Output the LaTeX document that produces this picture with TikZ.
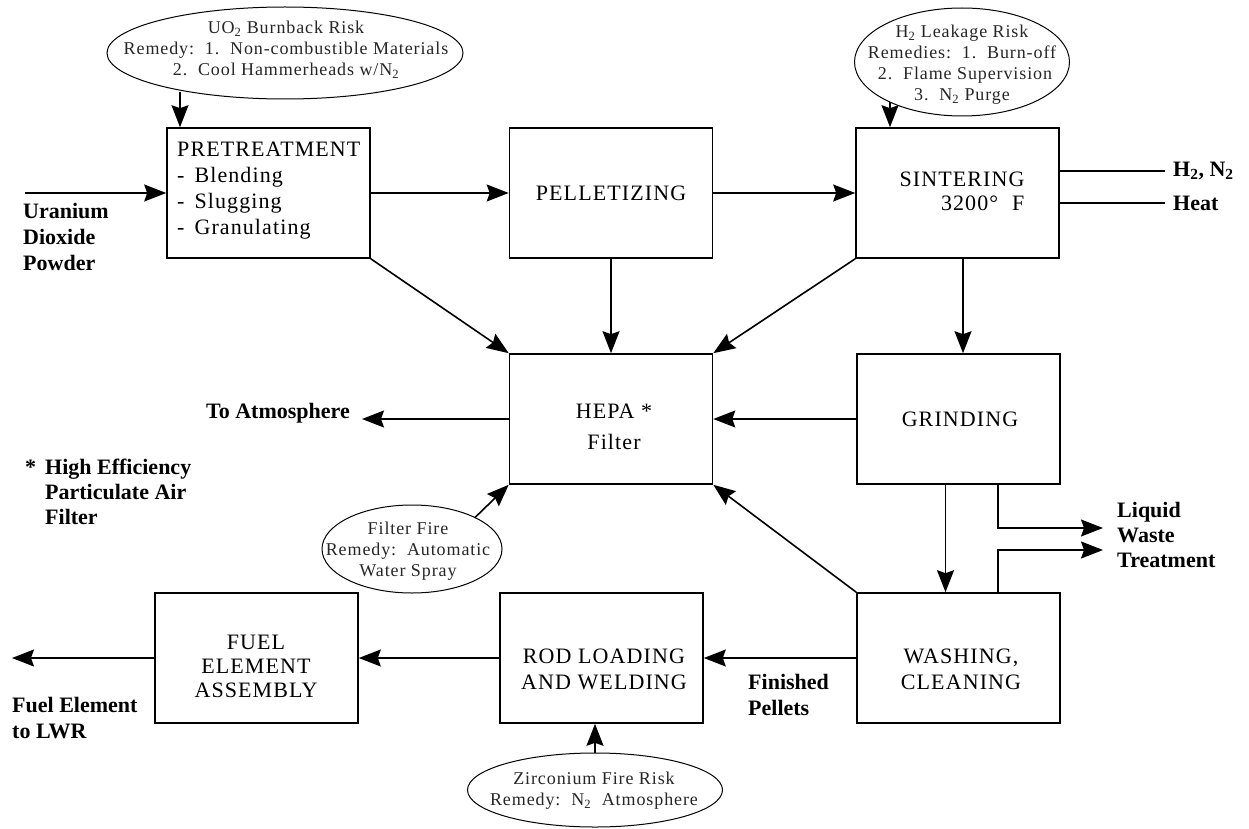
\documentclass[tikz,border=0pt]{standalone}
\usepackage{fontspec}
\setmainfont{Liberation Serif}
\newfontfamily\boxfont[LetterSpace=5]{Liberation Serif}
\newfontfamily\riskfont[LetterSpace=5]{Liberation Serif}
\usetikzlibrary{arrows.meta,shapes.geometric}
\begin{document}
\begin{tikzpicture}[x=1pt,y=-1pt,
  stepbox/.style={draw,line width=1.6pt,minimum width=203pt,minimum height=130pt,inner sep=0pt},
  risk/.style={draw,ellipse,line width=1pt,inner sep=0pt},
  flow/.style={line width=1.6pt,-{Stealth[length=22pt,width=17pt,inset=3pt]}},
  plainline/.style={line width=1.6pt},
  boxtxt/.style={font=\boxfont\fontsize{22}{26}\selectfont,inner sep=0pt},
  risktxt/.style={font=\riskfont\fontsize{18}{21}\selectfont,inner sep=0pt,align=center,text=black!85},
  lab/.style={font=\fontsize{22}{26}\selectfont\bfseries,align=left,inner sep=0pt}]
\useasboundingbox (0,0) rectangle (1249,829);

% process steps
\node[stepbox] (pre)   at (268.5,193) {};
\node[stepbox] (pel)   at (611,193) {};
\node[stepbox] (sin)   at (957.5,193) {};
\node[stepbox] (hepa)  at (611,419) {};
\node[stepbox] (grind) at (958.5,419) {};
\node[stepbox] (wash)  at (958.5,658) {};
\node[stepbox] (rod)   at (601.5,658) {};
\node[stepbox] (fuel)  at (256.5,658) {};

\node[boxtxt,align=left,anchor=west] (pre-t) at (177,191)
  {PRETREATMENT\\-\hspace{10pt}Blending\\-\hspace{10pt}Slugging\\-\hspace{10pt}Granulating};
\node[boxtxt] (pel-t) at (611,193) {PELLETIZING};
\node[boxtxt,align=right,font=\boxfont\fontsize{22}{24}\selectfont] (sin-t) at (962,191) {SINTERING\\3200°\hspace{14pt}F};
\node[boxtxt,align=center,font=\boxfont\fontsize{22}{31}\selectfont] (hepa-t) at (614,427) {HEPA *\\Filter};
\node[boxtxt] (grind-t) at (960,419) {GRINDING};
\node[boxtxt,align=center] (wash-t) at (961,669) {WASHING,\\CLEANING};
\node[boxtxt,align=center] (rod-t) at (604,669) {ROD LOADING\\AND WELDING};
\node[boxtxt,align=center,font=\boxfont\fontsize{22}{24}\selectfont] (fuel-t) at (256,666) {FUEL\\ELEMENT\\ASSEMBLY};

% hazards and remedies
\node[risk,minimum width=356pt,minimum height=92pt] (uo2) at (285,53) {};
\node[risktxt] (uo2-t) at (286,50)
  {UO\textsubscript{2} Burnback Risk\hspace{38pt}\\Remedy:\ \ 1.\ \ Non-combustible Materials\\2.\ \ Cool Hammerheads w/N\textsubscript{2}};
\node[risk,minimum width=215pt,minimum height=108pt] (h2) at (962,62) {};
\node[risktxt] (h2-t) at (962,65)
  {H\textsubscript{2} Leakage Risk\hspace{10pt}\\Remedies:\ \ 1.\ \ Burn-off\\\hspace{6pt}2.\ \ Flame Supervision\\3.\ \ N\textsubscript{2} Purge\hspace{18pt}};
\node[risk,minimum width=180pt,minimum height=88pt] (fire) at (412,549) {};
\node[risktxt] (fire-t) at (408,551) {Filter Fire\\Remedy:\ \ Automatic\\Water Spray};
\node[risk,minimum width=255pt,minimum height=74pt] (zr) at (595,790) {};
\node[risktxt] (zr-t) at (594,791) {Zirconium Fire Risk\\Remedy:\ \ N\textsubscript{2}\ \ Atmosphere};

% free ends of the external streams
\coordinate (uin) at (25,193);
\coordinate (gas) at (1165,171);
\coordinate (heat) at (1165,203);
\coordinate (atm) at (362,419);
\coordinate (lwA) at (1103,528);
\coordinate (lwB) at (1103,550);
\coordinate (out) at (12,658);
\coordinate (uo2-p) at (180,92);
\coordinate (h2-p) at (890,102);
\coordinate (fire-p) at (475,517.5);

% stream labels
\node[lab,anchor=west] (uin-l) at (23,237) {Uranium\\Dioxide\\Powder};
\node[lab,anchor=west] (gas-l) at (1173,171) {H\textsubscript{2}, N\textsubscript{2}};
\node[lab,anchor=west] (heat-l) at (1173,203) {Heat};
\node[lab,anchor=east] (atm-l) at (350,413) {To Atmosphere};
\node[lab,anchor=west,font=\fontsize{22}{25}\selectfont\bfseries] (lw-l) at (1117,535) {Liquid\\Waste\\Treatment};
\node[lab,anchor=west] (fp-l) at (748,695) {Finished\\Pellets};
\node[lab,anchor=west] (out-l) at (12,718) {Fuel Element\\to LWR};
\node[lab,anchor=west,font=\fontsize{22}{25}\selectfont\bfseries] (note) at (45,492) {\llap{*\hspace{9pt}}High Efficiency\\Particulate Air\\Filter};

% main flow
\draw[flow] (uin) -- (pre.west);
\draw[flow] (pre.east) -- (pel.west);
\draw[flow] (pel.east) -- (sin.west);
\draw[plainline] (gas -| sin.east) -- (gas);
\draw[plainline] (heat -| sin.east) -- (heat);
\draw[flow] ([xshift=5.5pt]sin.south) -- ([xshift=5.5pt]sin.south |- grind.north);
\draw[flow] ([xshift=-13pt]grind.south) -- ([xshift=-13pt]grind.south |- wash.north);
\draw[flow] (wash.west) -- (rod.east);
\draw[flow] (rod.west) -- (fuel.east);
\draw[flow] (fuel.west) -- (out);

% off-gas to the filter
\draw[flow] (pre.south east) -- (hepa.north west);
\draw[flow] (pel.south) -- (hepa.north);
\draw[flow] (sin.south west) -- (hepa.north east);
\draw[flow] (grind.west) -- (hepa.east);
\draw[flow] (wash.north west) -- (hepa.south east);
\draw[flow] (hepa.west) -- (atm);

% liquid waste
\draw[flow] (grind.south -| 998,0) -- (998,528) -- (lwA);
\draw[flow] (wash.north -| 998,0) -- (998,550) -- (lwB);

% hazard pointers
\draw[flow] (uo2-p) -- (uo2-p |- pre.north);
\draw[flow] (h2-p) -- (h2-p |- sin.north);
\draw[flow] (fire-p) -- (hepa.south west);
\draw[flow] (zr.north) -- (zr.north |- rod.south);
\end{tikzpicture}
\end{document}
